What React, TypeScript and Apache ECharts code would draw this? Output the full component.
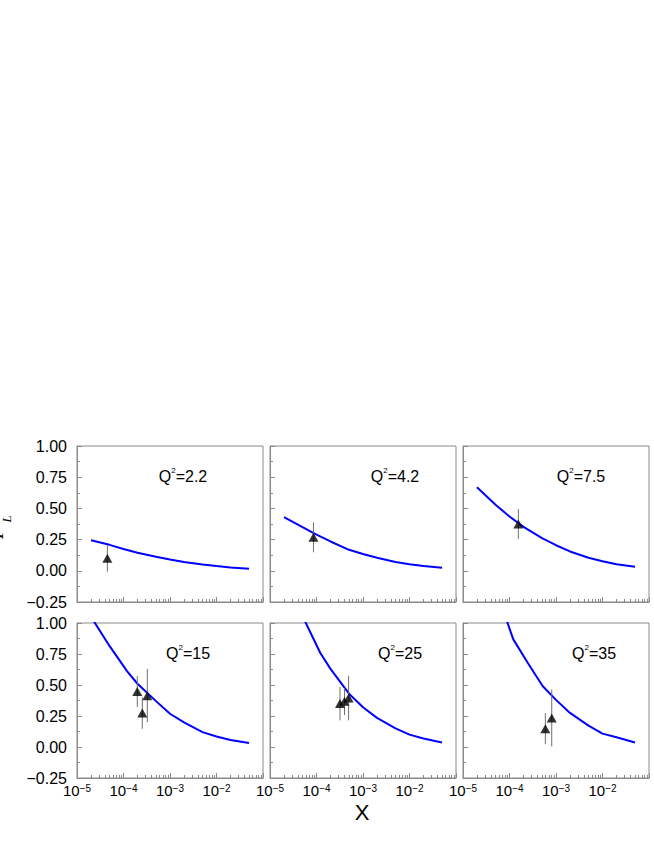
import React, { useEffect, useRef } from 'react';
import * as echarts from 'echarts';

// ---------- data ----------
const Q2_LABELS = ['2.2', '4.2', '7.5', '15', '25', '35'];

const CURVE_X1 = [2e-5, 5e-5, 1e-4, 2e-4, 5e-4, 1e-3, 2e-3, 5e-3, 1e-2, 2e-2, 5e-2];
const CURVE_Y1 = [0.245, 0.208, 0.175, 0.145, 0.113, 0.09, 0.07, 0.05, 0.038, 0.027, 0.017];
const CURVE_X2 = [2e-5, 5e-5, 1e-4, 2e-4, 5e-4, 1e-3, 2e-3, 5e-3, 1e-2, 2e-2, 5e-2];
const CURVE_Y2 = [0.43, 0.35, 0.29, 0.235, 0.168, 0.135, 0.105, 0.07, 0.052, 0.038, 0.024];
const CURVE_X3 = [2e-5, 5e-5, 1e-4, 2e-4, 5e-4, 1e-3, 2e-3, 5e-3, 1e-2, 2e-2, 5e-2];
const CURVE_Y3 = [0.67, 0.53, 0.435, 0.352, 0.261, 0.205, 0.155, 0.105, 0.076, 0.052, 0.033];
const CURVE_X4 = [2e-5, 5e-5, 1.2e-4, 2e-4, 5e-4, 1e-3, 2e-3, 5e-3, 1e-2, 2e-2, 5e-2];
const CURVE_Y4 = [1.05, 0.815, 0.61, 0.51, 0.37, 0.268, 0.198, 0.12, 0.085, 0.057, 0.032];
const CURVE_X5 = [5e-5, 1.2e-4, 2e-4, 5e-4, 1e-3, 2e-3, 5e-3, 1e-2, 2e-2, 5e-2];
const CURVE_Y5 = [1.056, 0.76, 0.63, 0.43, 0.32, 0.235, 0.15, 0.1, 0.068, 0.037];
const CURVE_X6 = [8e-5, 1.2e-4, 2.5e-4, 5.2e-4, 1e-3, 2e-3, 5e-3, 1e-2, 2e-2, 5e-2];
const CURVE_Y6 = [1.06, 0.87, 0.675, 0.49, 0.38, 0.275, 0.172, 0.108, 0.078, 0.037];

const PTS_X1 = [4.5e-5];
const PTS_Y1 = [0.1];
const PTS_E1 = [0.107];
const PTS_X2 = [8.6e-5];
const PTS_Y2 = [0.268];
const PTS_E2 = [0.12];
const PTS_X3 = [1.55e-4];
const PTS_Y3 = [0.375];
const PTS_E3 = [0.12];
const PTS_X4 = [1.98e-4, 2.54e-4, 3.25e-4];
const PTS_Y4 = [0.448, 0.274, 0.414];
const PTS_E4 = [0.125, 0.127, 0.215];
const PTS_X5 = [3.2e-4, 4.0e-4, 4.9e-4];
const PTS_Y5 = [0.35, 0.368, 0.395];
const PTS_E5 = [0.135, 0.11, 0.18];
const PTS_X6 = [5.9e-4, 8.1e-4];
const PTS_Y6 = [0.148, 0.234];
const PTS_E6 = [0.125, 0.23];

const X_MAJOR_EXP = [-5, -4, -3, -2, -1];
const X_MINOR_MANT = [2, 3, 4, 5, 6, 7, 8, 9];
const Y_TICKS = [-0.25, 0, 0.25, 0.5, 0.75, 1.0];

const CURVES = [
  [CURVE_X1, CURVE_Y1], [CURVE_X2, CURVE_Y2], [CURVE_X3, CURVE_Y3],
  [CURVE_X4, CURVE_Y4], [CURVE_X5, CURVE_Y5], [CURVE_X6, CURVE_Y6],
];
const POINTS = [
  [PTS_X1, PTS_Y1, PTS_E1], [PTS_X2, PTS_Y2, PTS_E2], [PTS_X3, PTS_Y3, PTS_E3],
  [PTS_X4, PTS_Y4, PTS_E4], [PTS_X5, PTS_Y5, PTS_E5], [PTS_X6, PTS_Y6, PTS_E6],
];

// ---------- layout ----------
const GRID_LEFTS = [77, 270, 463];
const GRID_TOPS = [446, 623];
const GRID_W = 186;
const GRID_HS = [156, 155];
const Q_LABEL_DX = [106, 125, 118, 111, 130, 131];
const Q_LABEL_Y = [475, 652];

const FONT = '"Liberation Sans", Arial, Helvetica, sans-serif';
const FRAME = '#8a8a8a';

function buildOption() {
  const grid: any[] = [];
  const xAxis: any[] = [];
  const yAxis: any[] = [];
  const series: any[] = [];
  const graphic: any[] = [];

  const minorVals: number[] = [];
  X_MAJOR_EXP.slice(0, -1).forEach((e) => X_MINOR_MANT.forEach((m) => minorVals.push(m * Math.pow(10, e))));

  for (let i = 0; i < 6; i++) {
    const row = Math.floor(i / 3);
    const col = i % 3;
    grid.push({
      left: GRID_LEFTS[col], top: GRID_TOPS[row], width: GRID_W, height: GRID_HS[row],
      show: true, borderColor: FRAME, borderWidth: 1, backgroundColor: 'transparent',
    });
    xAxis.push({
      type: 'log', logBase: 10, min: 1e-5, max: 1e-1, gridIndex: i, position: 'bottom',
      axisLine: { show: true, onZero: false, lineStyle: { color: FRAME, width: 1 } },
      axisTick: { show: true, inside: true, length: 5, lineStyle: { color: FRAME } },
      splitLine: { show: false },
      axisLabel: {
        show: row === 1, margin: 5, color: '#000', fontFamily: FONT,
        formatter: (v: number) => {
          const e = Math.round(Math.log10(v));
          if (e === -1) return '';
          return `{b|10}{s|\u2212${Math.abs(e)}}`;
        },
        rich: {
          b: { fontSize: 15, fontFamily: FONT, color: '#000', verticalAlign: 'bottom', lineHeight: 15 },
          s: { fontSize: 10, fontFamily: FONT, color: '#000', verticalAlign: 'top', lineHeight: 10 },
        },
      },
    });
    xAxis.push({
      type: 'log', logBase: 10, min: 1e-5, max: 1e-1, gridIndex: i, position: 'bottom',
      axisLine: { show: false, onZero: false },
      axisTick: { show: true, inside: true, length: 3, customValues: minorVals, lineStyle: { color: FRAME } },
      axisLabel: { show: false },
      splitLine: { show: false },
    });
    yAxis.push({
      type: 'value', min: Y_TICKS[0], max: Y_TICKS[Y_TICKS.length - 1], interval: 0.25, gridIndex: i,
      axisLine: { show: true, onZero: false, lineStyle: { color: FRAME, width: 1 } },
      axisTick: { show: true, inside: true, length: 5, lineStyle: { color: FRAME } },
      minorTick: { show: true, splitNumber: 2, length: 3, lineStyle: { color: FRAME } },
      splitLine: { show: false },
      axisLabel: {
        show: col === 0, margin: 10, color: '#000', fontSize: 16, fontFamily: FONT,
        formatter: (v: number) => v.toFixed(2).replace('-', '\u2212'),
      },
    });

    const [cx, cy] = CURVES[i];
    series.push({
      type: 'line', xAxisIndex: 2 * i, yAxisIndex: i,
      data: cx.map((x, k) => [x, cy[k]]),
      showSymbol: false, symbol: 'none', clip: true,
      lineStyle: { color: '#0000ff', width: 2 }, z: 2,
    });
    const [px, py, pe] = POINTS[i];
    const ptsData = px.map((x, k) => [x, py[k], pe[k]]);
    series.push({
      type: 'custom', xAxisIndex: 2 * i, yAxisIndex: i, data: ptsData, z: 3,
      encode: { x: 0, y: 1 },
      renderItem: (params: any, api: any) => {
        const x = api.value(0), y = api.value(1), e = api.value(2);
        const a = api.coord([x, y - e]);
        const b = api.coord([x, y + e]);
        return {
          type: 'line',
          shape: { x1: a[0], y1: a[1], x2: b[0], y2: b[1] },
          style: { stroke: '#6f6f6f', lineWidth: 1 },
        };
      },
    });
    series.push({
      type: 'scatter', xAxisIndex: 2 * i, yAxisIndex: i,
      data: ptsData.map((d) => [d[0], d[1]]),
      symbol: 'triangle', symbolSize: [10, 9], itemStyle: { color: '#000' }, z: 4,
    });

    graphic.push({
      type: 'text',
      x: GRID_LEFTS[col] + Q_LABEL_DX[i], y: Q_LABEL_Y[row],
      style: {
        text: `{q|Q}{s|2}{q|=${Q2_LABELS[i]}}`,
        align: 'center', verticalAlign: 'middle',
        rich: {
          q: { fontSize: 16, fontFamily: FONT, fill: '#000', verticalAlign: 'bottom', lineHeight: 18 },
          s: { fontSize: 8, fontFamily: FONT, fill: '#000', verticalAlign: 'top', lineHeight: 8 },
        },
      },
    });
  }

  graphic.push({
    type: 'text', x: 362, y: 812,
    style: { text: 'X', fontSize: 22, fontFamily: FONT, fill: '#000', align: 'center', verticalAlign: 'middle' },
  });
  graphic.push({
    type: 'text', x: 6, y: 533, rotation: Math.PI / 2,
    style: { text: 'F', fontSize: 20, fontStyle: 'italic', fontFamily: '"Liberation Serif", "DejaVu Serif", serif', fill: '#000', align: 'center', verticalAlign: 'bottom' },
  });
  graphic.push({
    type: 'text', x: 13, y: 519, rotation: Math.PI / 2,
    style: { text: 'L', fontSize: 13, fontStyle: 'italic', fontFamily: '"Liberation Serif", "DejaVu Serif", serif', fill: '#000', align: 'center', verticalAlign: 'bottom' },
  });

  return { animation: false, backgroundColor: '#fff', grid, xAxis, yAxis, series, graphic };
}

export default function App() {
  const ref = useRef<HTMLDivElement>(null);
  useEffect(() => {
    const chart = echarts.init(ref.current!, null, { renderer: 'svg' });
    chart.setOption(buildOption() as any);
    return () => chart.dispose();
  }, []);
  return <div ref={ref} style={{ position: 'absolute', left: 0, top: 0, width: 654, height: 846 }} />;
}
